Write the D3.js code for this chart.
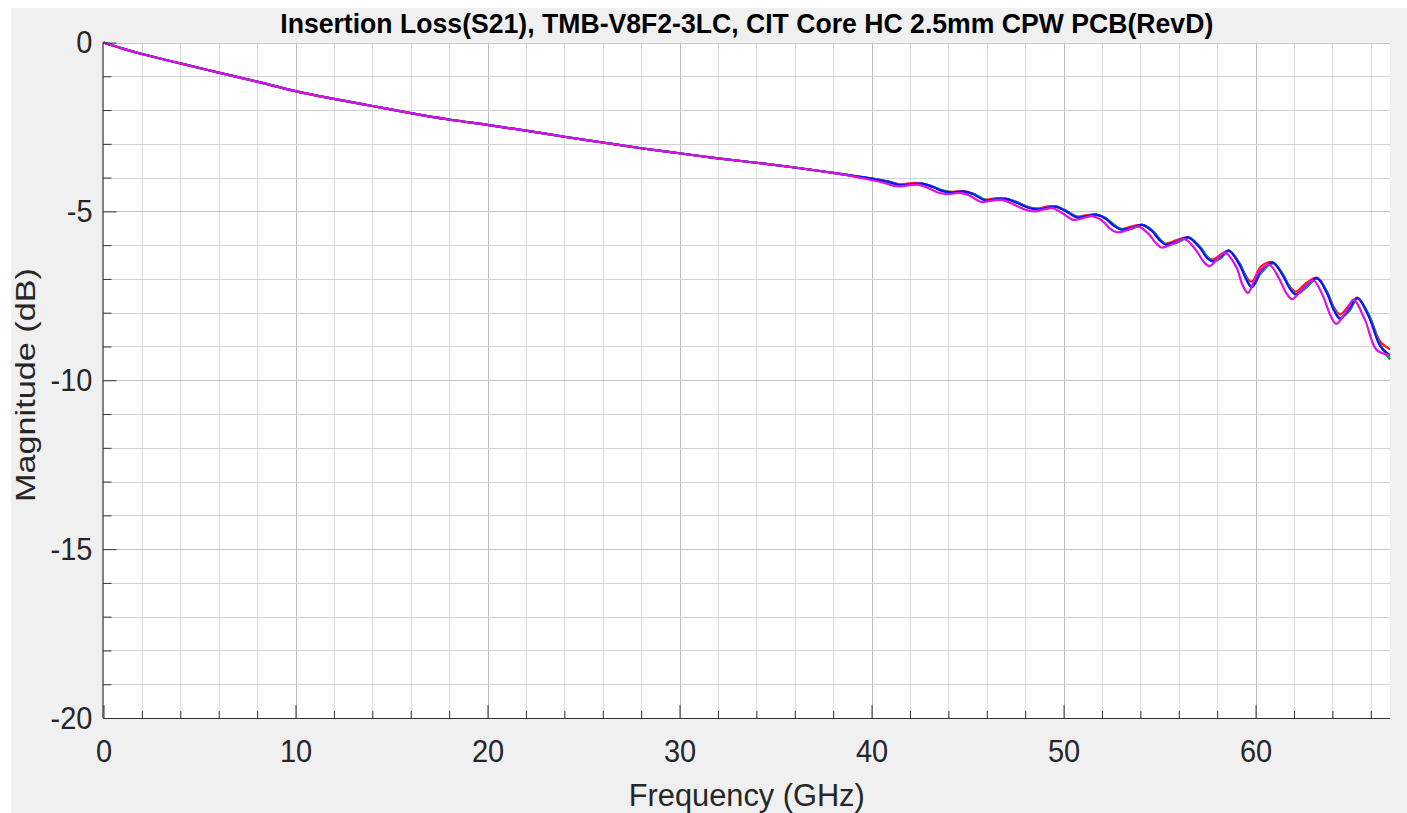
<!DOCTYPE html>
<html><head><meta charset="utf-8">
<script src="https://cdn.jsdelivr.net/npm/d3@7"></script>
<style>
body{margin:0;background:#fff;}
svg{display:block;}
text{font-family:"Liberation Sans",Arial,Helvetica,sans-serif;}
</style>
</head><body>
<svg id="chart" width="1407" height="813"></svg>
<script>
// ---------------- DATA ----------------
const titleText = "Insertion Loss(S21), TMB-V8F2-3LC, CIT Core HC 2.5mm CPW PCB(RevD)";
const xLabel = "Frequency (GHz)";
const yLabel = "Magnitude (dB)";
const xTicks = [0,10,20,30,40,50,60];
const yTicks = [0,-5,-10,-15,-20];
const xTickLabels = ["0","10","20","30","40","50","60"];
const yTickLabels = ["0","-5","-10","-15","-20"];

const freq = [0,1,2,4,6,8,10,12,14,16,18,20,22,24,26,28,30,32,34,36,38,
  40,40.8,41.5,42.1,42.6,43.2,43.7,44.2,44.8,45.3,
  45.9,46.5,47.0,47.5,48.2,48.7,49.2,49.6,50.1,50.7,
  51.2,51.7,52.2,52.6,53.0,53.5,54.1,54.6,55.0,55.3,
  55.9,56.5,57.1,57.5,57.8,58.2,58.6,59.2,59.5,59.8,
  60.3,60.9,61.4,61.8,62.1,62.6,63.2,63.7,64.1,64.4,
  64.9,65.3,65.9,66.5,67];

const s21Red = [0,-0.18,-0.34,-0.62,-0.89,-1.16,-1.44,-1.67,-1.88,-2.09,-2.28,-2.44,-2.61,-2.79,-2.96,-3.13,-3.28,-3.43,-3.56,-3.70,-3.86,
  -4.02,-4.10,-4.20,-4.16,-4.17,-4.27,-4.38,-4.42,-4.40,-4.48,
  -4.65,-4.61,-4.62,-4.72,-4.88,-4.91,-4.85,-4.86,-4.98,-5.15,
  -5.11,-5.09,-5.21,-5.40,-5.52,-5.45,-5.40,-5.57,-5.83,-5.95,
  -5.85,-5.77,-6.07,-6.36,-6.42,-6.27,-6.16,-6.58,-6.92,-7.08,
  -6.62,-6.50,-6.86,-7.24,-7.38,-7.14,-6.96,-7.36,-7.86,-8.05,
  -7.76,-7.55,-8.08,-8.86,-9.08];

const s21Blue = [0,-0.18,-0.34,-0.62,-0.89,-1.16,-1.44,-1.67,-1.88,-2.09,-2.28,-2.44,-2.61,-2.79,-2.96,-3.13,-3.28,-3.43,-3.56,-3.70,-3.86,
  -4.03,-4.12,-4.22,-4.19,-4.18,-4.28,-4.40,-4.44,-4.41,-4.49,
  -4.67,-4.64,-4.63,-4.73,-4.90,-4.94,-4.89,-4.86,-4.99,-5.18,
  -5.14,-5.10,-5.22,-5.42,-5.54,-5.49,-5.40,-5.58,-5.85,-5.98,
  -5.89,-5.77,-6.08,-6.40,-6.48,-6.33,-6.16,-6.62,-7.00,-7.25,
  -6.75,-6.52,-6.88,-7.30,-7.46,-7.22,-6.98,-7.40,-7.95,-8.18,
  -7.87,-7.57,-8.12,-9.00,-9.26];

const s21Green = [0,-0.18,-0.34,-0.62,-0.89,-1.16,-1.44,-1.67,-1.88,-2.09,-2.28,-2.44,-2.61,-2.79,-2.96,-3.13,-3.28,-3.43,-3.56,-3.70,-3.86,
  -4.03,-4.11,-4.21,-4.21,-4.18,-4.27,-4.38,-4.44,-4.43,-4.48,
  -4.65,-4.66,-4.63,-4.71,-4.88,-4.94,-4.91,-4.86,-4.97,-5.16,
  -5.16,-5.10,-5.20,-5.38,-5.53,-5.52,-5.40,-5.55,-5.81,-5.97,
  -5.93,-5.78,-6.04,-6.35,-6.47,-6.38,-6.17,-6.57,-6.96,-7.24,
  -6.82,-6.54,-6.84,-7.26,-7.45,-7.28,-6.99,-7.36,-7.90,-8.16,
  -7.94,-7.58,-8.06,-8.96,-9.38];

const s21Cyan = [0,-0.18,-0.34,-0.62,-0.89,-1.16,-1.44,-1.67,-1.88,-2.09,-2.28,-2.44,-2.61,-2.79,-2.96,-3.13,-3.28,-3.43,-3.56,-3.70,-3.86,
  -4.03,-4.11,-4.21,-4.20,-4.18,-4.27,-4.39,-4.44,-4.42,-4.48,
  -4.66,-4.65,-4.63,-4.72,-4.89,-4.94,-4.90,-4.86,-4.98,-5.17,
  -5.15,-5.10,-5.21,-5.40,-5.53,-5.50,-5.40,-5.56,-5.83,-5.97,
  -5.91,-5.77,-6.06,-6.37,-6.47,-6.35,-6.16,-6.59,-6.98,-7.24,
  -6.78,-6.53,-6.86,-7.28,-7.45,-7.25,-6.98,-7.38,-7.92,-8.17,
  -7.90,-7.57,-8.09,-8.98,-9.31];

const freqMagenta = [0,1,2,4,6,8,10,12,14,16,18,20,22,24,26,28,30,32,34,36,38,
  39.8,40.6,41.3,41.9,42.4,43.0,43.5,44.0,44.6,45.1,
  45.7,46.3,46.8,47.3,48.0,48.5,49.0,49.4,49.9,50.5,
  51.0,51.5,52.0,52.4,52.8,53.3,53.9,54.4,54.8,55.1,
  55.7,56.3,56.9,57.3,57.6,58.0,58.4,59.0,59.3,59.6,
  60.1,60.7,61.2,61.6,61.9,62.4,63.0,63.5,63.9,64.2,
  64.7,65.1,65.7,66.3,67];

const s21Magenta = [0,-0.18,-0.34,-0.62,-0.89,-1.16,-1.44,-1.67,-1.88,-2.09,-2.28,-2.44,-2.61,-2.79,-2.96,-3.13,-3.28,-3.43,-3.56,-3.70,-3.86,
  -4.05,-4.15,-4.26,-4.23,-4.21,-4.32,-4.45,-4.49,-4.45,-4.53,
  -4.72,-4.68,-4.66,-4.77,-4.95,-5.00,-4.94,-4.90,-5.04,-5.25,
  -5.20,-5.14,-5.27,-5.50,-5.62,-5.56,-5.45,-5.65,-5.93,-6.07,
  -5.96,-5.82,-6.15,-6.50,-6.62,-6.42,-6.22,-6.65,-7.15,-7.42,
  -6.85,-6.58,-6.96,-7.42,-7.60,-7.32,-7.04,-7.50,-8.08,-8.33,
  -7.98,-7.62,-8.22,-9.10,-9.25];

const seriesNames = ["red","green","cyan","blue","magenta"];
const seriesColors = ["#ff1a1a","#108a10","#18b0a8","#1010ff","#e010e0"];
const seriesFreqs = [freq, freq, freq, freq, freqMagenta];
const seriesValues = [s21Red, s21Green, s21Cyan, s21Blue, s21Magenta];

// ---------------- LAYOUT ----------------
const svg = d3.select("#chart");
const L = 103.5, R = 1390, T = 42.5, B = 718;
const x = d3.scaleLinear().domain([0,67]).range([L,R]);
const y = d3.scaleLinear().domain([-20,0]).range([B,T]);

// figure background
svg.append("rect").attr("x",11).attr("y",8).attr("width",1396).attr("height",805).attr("fill","#f0f0f0");
svg.append("rect").attr("x",L).attr("y",T).attr("width",R-L).attr("height",B-T).attr("fill","#ffffff");

// grid
const grid = svg.append("g");
const xMinor = d3.range(2,67,2).filter(v => v % 10 !== 0);
grid.selectAll(".vm").data(xMinor).join("line")
  .attr("x1",d=>Math.round(x(d))+0.5).attr("x2",d=>Math.round(x(d))+0.5)
  .attr("y1",T).attr("y2",B).attr("stroke","#dcdcdc").attr("stroke-width",1);
grid.selectAll(".vM").data(xTicks.filter(v=>v>0)).join("line")
  .attr("x1",d=>Math.round(x(d))+0.5).attr("x2",d=>Math.round(x(d))+0.5)
  .attr("y1",T).attr("y2",B).attr("stroke","#bdbdbd").attr("stroke-width",1);
const yGrid = d3.range(-19,1,1);
grid.selectAll(".h").data(yGrid).join("line")
  .attr("x1",L).attr("x2",R)
  .attr("y1",d=>Math.round(y(d))+0.5).attr("y2",d=>Math.round(y(d))+0.5)
  .attr("stroke",d=> d % 5 === 0 ? "#c4c4c4" : "#d2d2d2").attr("stroke-width",1);

// series
const line = d3.line().curve(d3.curveCatmullRom.alpha(0.5)).x(d=>x(d[0])).y(d=>y(d[1]));
const plot = svg.append("g");
seriesValues.forEach((vals,i)=>{
  const pts = seriesFreqs[i].map((f,j)=>[f, vals[j]]);
  plot.append("path").datum(pts).attr("d",line)
    .attr("fill","none").attr("stroke",seriesColors[i]).attr("stroke-width",2.2)
    .attr("stroke-linejoin","round");
});

// axes
const axisColor = "#333333";
const xAxisMinor = d3.axisBottom(x).tickValues(d3.range(0,67,2).filter(v=>v%10!==0)).tickSize(-7).tickFormat("");
const xAxisMajor = d3.axisBottom(x).tickValues(xTicks).tickSize(-13).tickSizeOuter(0).tickPadding(20)
  .tickFormat((d,i)=>xTickLabels[i]);
const gx1 = svg.append("g").attr("transform",`translate(0,${B})`).call(xAxisMinor);
gx1.select(".domain").remove();
const gx = svg.append("g").attr("transform",`translate(0,${B})`).call(xAxisMajor);
gx.select(".domain").attr("d",`M${L},0.5H${R}`);

const yAxisMinor = d3.axisLeft(y).tickValues(d3.range(-19,0,1).filter(v=>v%5!==0)).tickSize(-8).tickFormat("");
const yAxisMajor = d3.axisLeft(y).tickValues(yTicks).tickSize(-13).tickSizeOuter(0).tickPadding(11)
  .tickFormat((d,i)=>yTickLabels[i]);
const gy1 = svg.append("g").attr("transform",`translate(${L},0)`).call(yAxisMinor);
gy1.select(".domain").remove();
const gy = svg.append("g").attr("transform",`translate(${L},0)`).call(yAxisMajor);
gy.select(".domain").attr("d",`M-0.5,${T}V${B}`);

[gx1,gx,gy1,gy].forEach(g=>{
  g.selectAll("line").attr("stroke",axisColor);
  g.selectAll(".domain").attr("stroke",axisColor).attr("stroke-width",1.2);
});
gx.selectAll("text").attr("font-size",29).attr("fill","#262626")
  .attr("font-family","'Liberation Sans',Arial,sans-serif")
  .attr("transform","scale(1,1.1)").attr("y",19);
gy.selectAll("text").attr("font-size",29).attr("fill","#262626")
  .attr("font-family","'Liberation Sans',Arial,sans-serif")
  .attr("transform","scale(1,1.1)");

// titles
svg.append("text").attr("transform",`translate(${(L+R)/2},33) scale(1,1.1)`)
  .attr("text-anchor","middle").attr("font-weight","bold").attr("font-size",25)
  .attr("fill","#000").attr("textLength",933).attr("lengthAdjust","spacingAndGlyphs")
  .text(titleText);
svg.append("text").attr("transform",`translate(${(L+R)/2},806) scale(1,1.1)`)
  .attr("text-anchor","middle").attr("font-size",28).attr("fill","#262626")
  .attr("textLength",236).attr("lengthAdjust","spacingAndGlyphs")
  .text(xLabel);
svg.append("text").attr("transform",`translate(35,385) rotate(-90)`)
  .attr("text-anchor","middle").attr("font-size",28).attr("fill","#262626")
  .attr("textLength",234).attr("lengthAdjust","spacingAndGlyphs")
  .text(yLabel);
</script>
</body></html>
